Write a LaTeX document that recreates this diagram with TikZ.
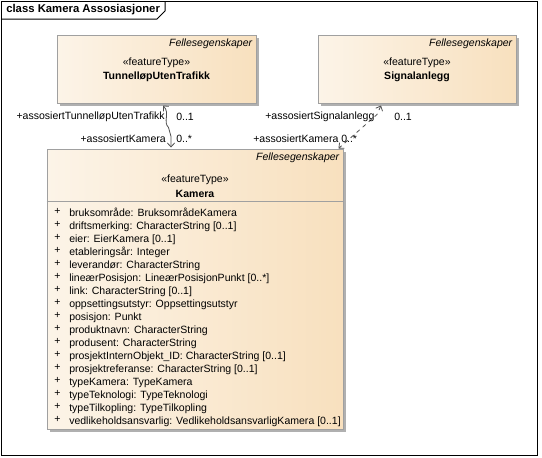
\documentclass[tikz,border=0pt]{standalone}
\usepackage{fontspec}
\setmainfont{Liberation Sans}
\usetikzlibrary{arrows.meta,calc,shadows}
\definecolor{boxleft}{RGB}{252,244,232}
\definecolor{boxright}{RGB}{248,224,190}
\definecolor{boxline}{RGB}{160,160,160}
\definecolor{boxshadow}{RGB}{176,176,176}
\definecolor{linkgrey}{RGB}{80,80,80}

\begin{document}
\begin{tikzpicture}[x=0.75pt,y=0.75pt,yscale=-1,xscale=1,
  every node/.style={inner sep=0.75pt,font=\fontsize{7.9}{9.75}\selectfont},
  classbox/.style={draw=boxline,line width=0.75pt,left color=boxleft,right color=boxright,
    drop shadow={shadow xshift=2.25pt,shadow yshift=-2.25pt,fill=boxshadow,opacity=1}},
  assoc/.style={draw=linkgrey,line width=0.6pt,{Straight Barb[length=3pt,width=5.5pt]}-{Straight Barb[length=3pt,width=5.5pt]}}]
\useasboundingbox (0,0) rectangle (542,457);

%Shape: Frame
\draw [line width=0.75pt] (1,1) rectangle (537.5,455);
\draw [line width=0.75pt] (1,19) -- (157,19) -- (165,11) -- (165,1);
% Text Node
\node [anchor=west,font=\fontsize{8.5}{9.75}\selectfont\bfseries] (title) at (5,10) {class Kamera Assosiasjoner};

%Shape: Class TunnelløpUtenTrafikk
\node [classbox,minimum width=149.25pt,minimum height=51pt] (tunnel) at (156.5,69) {};
%Shape: Class Signalanlegg
\node [classbox,minimum width=148.5pt,minimum height=51pt] (signal) at (417,69) {};
%Shape: Class Kamera
\node [classbox,minimum width=222pt,minimum height=210pt] (kamera) at (195,289) {};
\draw [boxline,line width=0.75pt] ($(kamera.north west)+(0,53)$) -- ($(kamera.north east)+(0,53)$);

% Text Node
\node [anchor=east,font=\fontsize{7.9}{9.75}\selectfont\itshape] (tunnelfelles) at ($(tunnel.north east)+(-3,9)$) {Fellesegenskaper};
\node (tunnelstereo) at ($(tunnel.north)+(0,28)$) {«featureType»};
\node [font=\fontsize{7.9}{9.75}\selectfont\bfseries] (tunnelname) at ($(tunnel.north)+(0,42)$) {TunnelløpUtenTrafikk};
% Text Node
\node [anchor=east,font=\fontsize{7.9}{9.75}\selectfont\itshape] (signalfelles) at ($(signal.north east)+(-3,9)$) {Fellesegenskaper};
\node (signalstereo) at ($(signal.north)+(0,28)$) {«featureType»};
\node [font=\fontsize{7.9}{9.75}\selectfont\bfseries] (signalname) at ($(signal.north)+(0,42)$) {Signalanlegg};
% Text Node
\node [anchor=east,font=\fontsize{7.9}{9.75}\selectfont\itshape] (kamerafelles) at ($(kamera.north east)+(-3,9)$) {Fellesegenskaper};
\node (kamerastereo) at ($(kamera.north)+(0,31)$) {«featureType»};
\node [font=\fontsize{7.9}{9.75}\selectfont\bfseries] (kameraname) at ($(kamera.north)+(0,45)$) {Kamera};

% Attributes
\node [anchor=north west,align=left] (plus) at (53,207) {+\\+\\+\\+\\+\\+\\+\\+\\+\\+\\+\\+\\+\\+\\+\\+\\+};
\node [anchor=north west,align=left] (attrs) at (68,207) {bruksområde: BruksområdeKamera\\
driftsmerking: CharacterString [0..1]\\
eier: EierKamera [0..1]\\
etableringsår: Integer\\
leverandør: CharacterString\\
lineærPosisjon: LineærPosisjonPunkt [0..*]\\
link: CharacterString [0..1]\\
oppsettingsutstyr: Oppsettingsutstyr\\
posisjon: Punkt\\
produktnavn: CharacterString\\
produsent: CharacterString\\
prosjektInternObjekt\_ID: CharacterString [0..1]\\
prosjektreferanse: CharacterString [0..1]\\
typeKamera: TypeKamera\\
typeTeknologi: TypeTeknologi\\
typeTilkopling: TypeTilkopling\\
vedlikeholdsansvarlig: VedlikeholdsansvarligKamera [0..1]};

%Curve Lines: Tunnel association
\draw [assoc] ($(tunnel.south)+(6.5,2)$) .. controls ($(tunnel.south)+(14,10)$) and ($(tunnel.south)+(6,18)$) .. ($(tunnel.south)+(12,24)$) -- ($(kamera.north)+(-24,-12)$) -- ($(kamera.north)+(-24,-1)$);
%Straight Lines: Signal association
\draw [assoc,dashed] ($(signal.south)+(-36,2)$) -- ($(signal.south)+(-40,11)$) -- ($(kamera.north east)+(-5,0)$);

% Text Node
\node [anchor=east] (rolletunnel) at (166,117) {+assosiertTunnelløpUtenTrafikk};
\node [anchor=west] (multtunnel) at (175,117) {0..1};
\node [anchor=east] (rollekamera1) at (167,139) {+assosiertKamera};
\node [anchor=west] (multkamera1) at (175,139) {0..*};
% Text Node
\node [anchor=west] (rollesignal) at (264,117) {+assosiertSignalanlegg};
\node [anchor=west] (multsignal) at (393,117) {0..1};
\node [anchor=west] (rollekamera2) at (252,139) {+assosiertKamera};
\node [anchor=west] (multkamera2) at (340,139) {0..*};

\end{tikzpicture}
\end{document}
